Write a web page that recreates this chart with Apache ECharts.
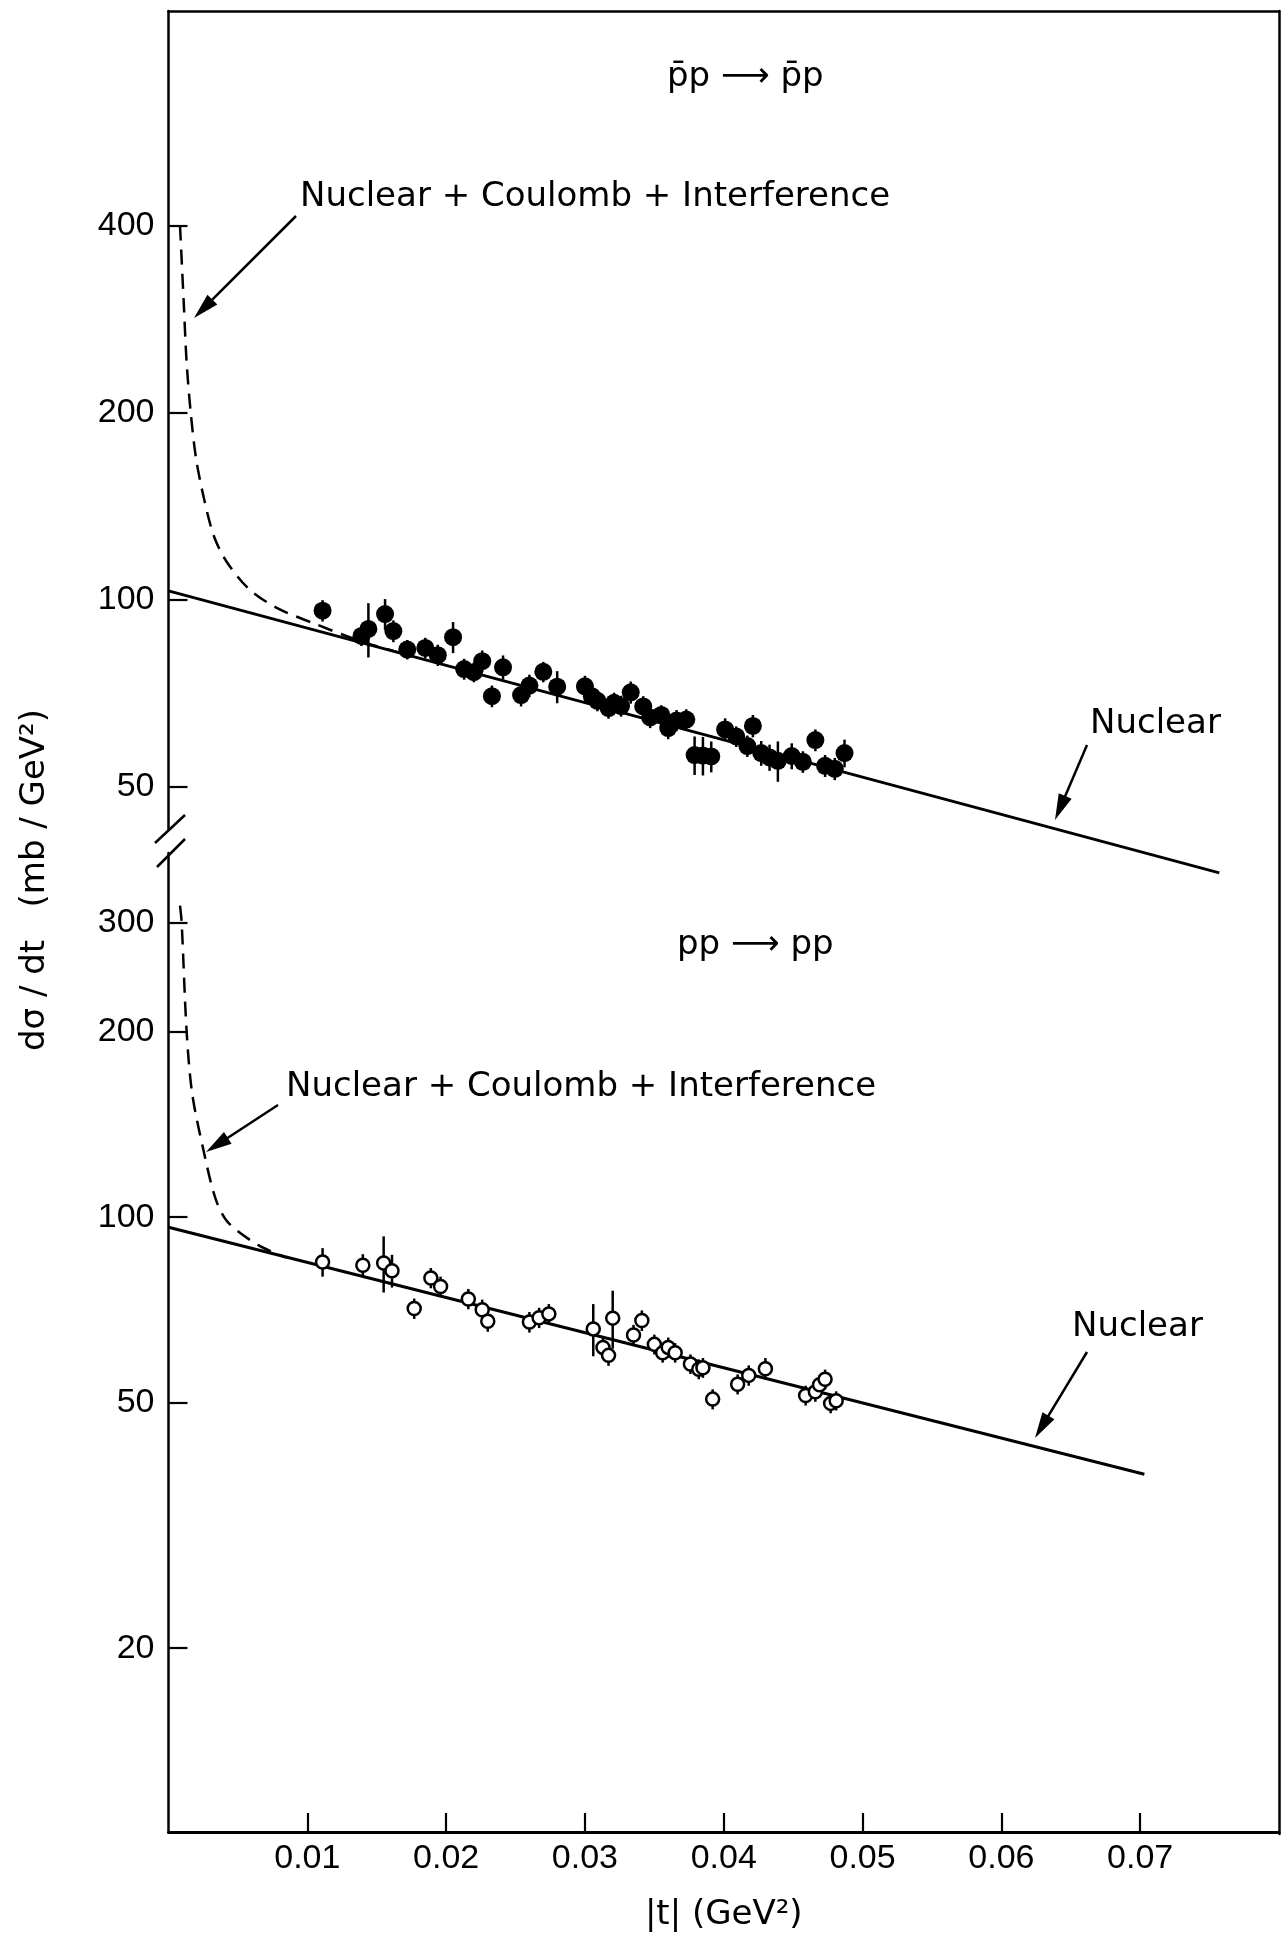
<!DOCTYPE html>
<html><head><meta charset="utf-8">
<script src="https://cdn.jsdelivr.net/npm/echarts@6/dist/echarts.min.js"></script>
<style>html,body{margin:0;padding:0;background:#fff}#c{width:1283px;height:1937px}</style>
</head><body><div id="c"></div>
<script>
// ---- data ----
// pbar p -> pbar p (filled points)
const tUpper = [0.0111,0.0139,0.0144,0.0156,0.0162,0.0172,0.0185,0.0194,0.0205,0.0213,0.0220,0.0226,0.0233,0.0241,0.0254,0.0260,0.0270,0.0280,0.0300,0.0305,0.0309,0.0317,0.0321,0.0326,0.0333,0.0342,0.0347,0.0355,0.0360,0.0366,0.0373,0.0379,0.0385,0.0391,0.0401,0.0409,0.0417,0.0421,0.0427,0.0433,0.0439,0.0449,0.0457,0.0466,0.0473,0.0480,0.0487];
const vUpper = [96.0,87.4,89.7,94.8,89.0,83.1,83.6,81.4,87.0,77.3,76.4,79.6,69.9,77.8,70.2,72.7,76.5,72.4,72.5,69.9,68.7,66.9,68.2,67.4,70.9,67.3,64.6,65.2,62.1,63.9,64.1,56.2,56.1,55.9,61.8,60.2,58.1,62.6,56.6,55.7,55.0,56.0,54.8,59.4,54.0,53.4,56.6];
const eUpper = [3.8,3.2,9.0,5.4,3.6,3.0,3.2,3.2,5.0,3.0,2.8,3.2,2.8,3.5,2.9,3.0,2.9,4.3,2.9,2.6,2.6,2.6,2.6,2.6,2.9,2.6,2.5,2.4,2.5,2.5,2.5,4.0,4.0,3.2,2.6,2.3,2.3,2.6,2.6,2.7,4.1,2.7,2.2,2.4,2.2,2.2,2.9];
// p p -> p p (open points)
const tLower = [0.0111,0.0140,0.0155,0.0161,0.0177,0.0189,0.0196,0.0216,0.0226,0.0230,0.0260,0.0267,0.0274,0.0306,0.0313,0.0317,0.0320,0.0335,0.0341,0.0350,0.0356,0.0360,0.0365,0.0376,0.0382,0.0385,0.0392,0.0410,0.0418,0.0430,0.0459,0.0466,0.0469,0.0473,0.0477,0.0481];
const vLower = [84.6,83.6,84.3,81.9,71.1,79.7,77.2,73.7,70.8,67.8,67.6,68.7,69.7,65.9,61.5,59.7,68.6,64.4,68.0,62.2,60.3,61.5,60.3,57.8,56.7,57.0,50.7,53.6,55.4,56.8,51.4,52.1,53.5,54.6,49.9,50.4];
const eLower = [4.5,3.5,8.8,5.0,2.7,3.0,2.9,2.8,2.7,2.6,2.6,2.6,2.6,6.4,2.3,2.3,7.4,2.5,2.6,2.3,2.2,2.3,2.2,2.1,2.1,2.1,1.9,2.0,2.1,2.3,1.9,1.9,1.9,2.0,1.8,1.8];
// curves
const nucUpperT = [0, 0.0757];
const nucUpperV = [103.3, 36.3];
const nciUpperT = [0.00083,0.0011,0.0013,0.0016,0.002,0.0026,0.0033,0.0042,0.0058,0.0078,0.0105,0.0140,0.0172];
const nciUpperV = [400,300,242,200,168,144,126,115,104,97,91.5,85.5,81.5];
const nucLowerT = [0, 0.0703];
const nucLowerV = [96.3, 38.3];
const nciLowerT = [0.00083,0.00095,0.0013,0.0017,0.0025,0.0034,0.0043,0.0065,0.0085];
const nciLowerV = [320,300,201,159,129,107,98,90,86];
// ticks
const xTickVals = [0.01,0.02,0.03,0.04,0.05,0.06,0.07];
const yTicksUpper = [50,100,200,400];
const yTicksLower = [20,50,100,200,300];

const zip = (a, b) => a.map((x, i) => [x, b[i]]);
const NUM_FONT = '"Liberation Sans", Arial, sans-serif';
const TXT_FONT = '"DejaVu Sans", sans-serif';

function errSeries(xi, yi, t, v, e) {
  return {
    type: 'custom', xAxisIndex: xi, yAxisIndex: yi, silent: true, z: 3,
    data: t.map((x, i) => [x, v[i] - e[i], v[i] + e[i]]),
    encode: { x: 0, y: [1, 2] },
    renderItem: (params, api) => {
      const p1 = api.coord([api.value(0), api.value(1)]);
      const p2 = api.coord([api.value(0), api.value(2)]);
      return { type: 'line', shape: { x1: p1[0], y1: p1[1], x2: p2[0], y2: p2[1] },
               style: { stroke: '#000', lineWidth: 2.5 } };
    }
  };
}
function arrow(x1, y1, x2, y2) {
  const dx = x2 - x1, dy = y2 - y1, len = Math.hypot(dx, dy), ux = dx / len, uy = dy / len;
  const hl = 26, hw = 7;
  const bx = x2 - ux * hl, by = y2 - uy * hl;
  return [
    { type: 'line', shape: { x1, y1, x2: bx + ux * 4, y2: by + uy * 4 }, style: { stroke: '#000', lineWidth: 2.5 } },
    { type: 'polygon', shape: { points: [[x2, y2], [bx - uy * hw, by + ux * hw], [bx + uy * hw, by - ux * hw]] }, style: { fill: '#000' } }
  ];
}
function txt(x, y, s, size, align) {
  return { type: 'text', x, y, style: { text: s, font: size + 'px ' + TXT_FONT, fill: '#000', align: align || 'left', verticalAlign: 'middle' } };
}

const L = 168.5, R = 4;
const yAxisCommon = (ticks) => ({
  type: 'log', logBase: 10,
  axisLine: { show: true, onZero: false, lineStyle: { color: '#000', width: 2.5 } },
  axisTick: { show: true, inside: true, length: 19, customValues: ticks, lineStyle: { color: '#000', width: 2.2 } },
  axisLabel: { show: true, customValues: ticks, margin: 14, fontSize: 34, fontFamily: NUM_FONT, color: '#000' },
  minorTick: { show: false }, splitLine: { show: false }, minorSplitLine: { show: false }
});

const option = {
  animation: false,
  backgroundColor: '#fff',
  grid: [
    { left: L, right: R, top: 11, height: 818 },
    { left: L, right: R, top: 853, height: 981 },
    { left: L, right: R, top: 11, height: 1823 }
  ],
  xAxis: [
    { gridIndex: 0, type: 'value', min: 0, max: 0.08, position: 'top',
      axisLine: { show: true, onZero: false, lineStyle: { color: '#000', width: 2.5 } },
      axisTick: { show: false }, axisLabel: { show: false }, splitLine: { show: false } },
    { gridIndex: 1, type: 'value', min: 0, max: 0.08, interval: 0.01, position: 'bottom',
      name: '|t| (GeV²)', nameLocation: 'middle', nameGap: 66,
      nameTextStyle: { fontSize: 34, fontFamily: TXT_FONT, color: '#000' },
      axisLine: { show: true, onZero: false, lineStyle: { color: '#000', width: 3 } },
      axisTick: { show: true, inside: true, length: 19, customValues: xTickVals, lineStyle: { color: '#000', width: 2.2 } },
      axisLabel: { show: true, customValues: xTickVals, margin: 10, fontSize: 34, fontFamily: NUM_FONT, color: '#000',
                   formatter: v => v.toFixed(2) },
      splitLine: { show: false } },
    { gridIndex: 2, type: 'value', min: 0, max: 0.08, show: false }
  ],
  yAxis: [
    Object.assign({ gridIndex: 0, min: 42.72, max: 886.9 }, yAxisCommon(yTicksUpper)),
    Object.assign({ gridIndex: 1, min: 10.07, max: 389.6 }, yAxisCommon(yTicksLower)),
    { gridIndex: 2, type: 'value', min: 0, max: 1, position: 'right',
      axisLine: { show: true, onZero: false, lineStyle: { color: '#000', width: 2.5 } },
      axisTick: { show: false }, axisLabel: { show: false }, splitLine: { show: false } }
  ],
  series: [
    { type: 'line', xAxisIndex: 0, yAxisIndex: 0, data: zip(nucUpperT, nucUpperV), showSymbol: false, clip: false,
      lineStyle: { color: '#000', width: 3 }, z: 2, silent: true },
    { type: 'line', xAxisIndex: 0, yAxisIndex: 0, data: zip(nciUpperT, nciUpperV), showSymbol: false, smooth: 0.3,
      lineStyle: { color: '#000', width: 2.5, type: [15, 9] }, z: 2, silent: true },
    errSeries(0, 0, tUpper, vUpper, eUpper),
    { type: 'scatter', xAxisIndex: 0, yAxisIndex: 0, data: zip(tUpper, vUpper), symbol: 'circle', symbolSize: 18,
      itemStyle: { color: '#000', opacity: 1 }, z: 4, silent: true },
    { type: 'line', xAxisIndex: 1, yAxisIndex: 1, data: zip(nucLowerT, nucLowerV), showSymbol: false, clip: false,
      lineStyle: { color: '#000', width: 3 }, z: 2, silent: true },
    { type: 'line', xAxisIndex: 1, yAxisIndex: 1, data: zip(nciLowerT, nciLowerV), showSymbol: false, smooth: 0.3,
      lineStyle: { color: '#000', width: 2.5, type: [15, 9] }, z: 2, silent: true },
    errSeries(1, 1, tLower, vLower, eLower),
    { type: 'scatter', xAxisIndex: 1, yAxisIndex: 1, data: zip(tLower, vLower), symbol: 'circle', symbolSize: 13,
      itemStyle: { color: '#fff', borderColor: '#000', borderWidth: 2.5, opacity: 1 }, z: 4, silent: true }
  ],
  graphic: [].concat(
    [
      txt(667, 77, 'p\u0304p \u27F6 p\u0304p', 34),
      txt(300, 197, 'Nuclear + Coulomb + Interference', 34),
      txt(1090, 724, 'Nuclear', 34),
      txt(677, 945, 'pp \u27F6 pp', 34),
      txt(286, 1087, 'Nuclear + Coulomb + Interference', 34),
      txt(1072, 1327, 'Nuclear', 34),
      { type: 'text', x: 35, y: 880, rotation: Math.PI / 2,
        style: { text: 'dσ / dt   (mb / GeV²)', font: '34px ' + TXT_FONT, fill: '#000', align: 'center', verticalAlign: 'middle' } },
      { type: 'line', shape: { x1: 155, y1: 843, x2: 185, y2: 815 }, style: { stroke: '#000', lineWidth: 2.5 } },
      { type: 'line', shape: { x1: 157, y1: 867, x2: 185, y2: 839 }, style: { stroke: '#000', lineWidth: 2.5 } }
    ],
    arrow(296, 216, 194, 318),
    arrow(1087, 745, 1055, 820),
    arrow(278, 1105, 206, 1152),
    arrow(1087, 1352, 1035, 1438)
  )
};

const chart = echarts.init(document.getElementById('c'), null, { renderer: 'canvas' });
chart.setOption(option);
</script>
</body></html>
